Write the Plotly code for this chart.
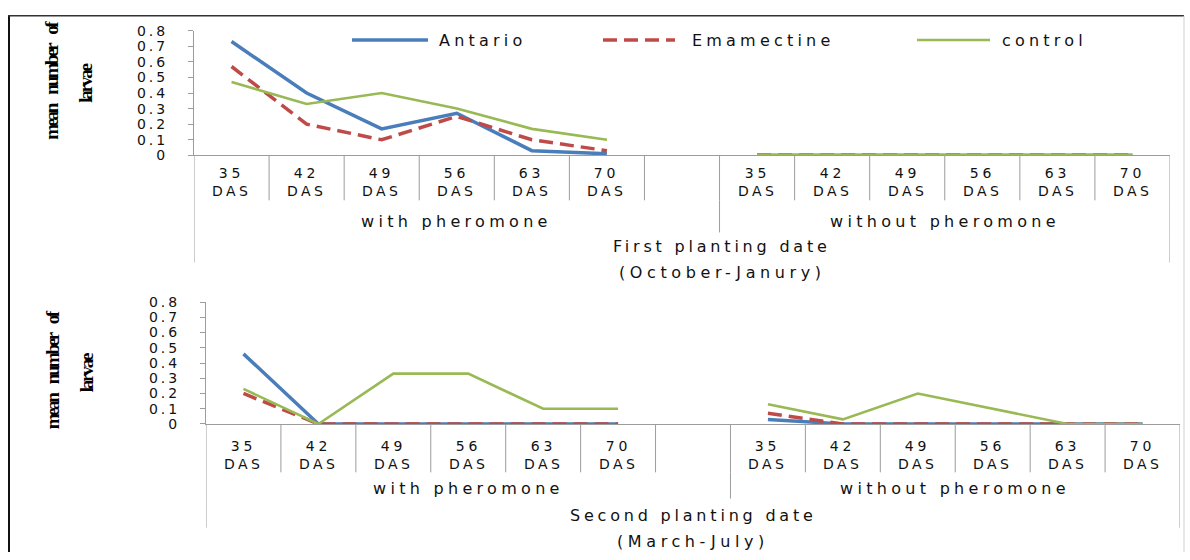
import plotly.graph_objects as go

# ---- data ---------------------------------------------------------------
days = ["35", "42", "49", "56", "63", "70"]
day_unit = "DAS"
groups = ["with pheromone", "without pheromone"]
series_names = ["Antario", "Emamectine", "control"]

# First planting date (October-Janury)
antario_1_with = [0.73, 0.40, 0.17, 0.27, 0.03, 0.01]
antario_1_without = [0, 0, 0, 0, 0, 0]
emamectine_1_with = [0.57, 0.20, 0.10, 0.25, 0.10, 0.03]
emamectine_1_without = [0, 0, 0, 0, 0, 0]
control_1_with = [0.47, 0.33, 0.40, 0.30, 0.17, 0.10]
control_1_without = [0, 0, 0, 0, 0, 0]

# Second planting date (March-July)
antario_2_with = [0.46, 0, 0, 0, 0, 0]
antario_2_without = [0.03, 0, 0, 0, 0, 0]
emamectine_2_with = [0.20, 0, 0, 0, 0, 0]
emamectine_2_without = [0.07, 0, 0, 0, 0, 0]
control_2_with = [0.23, 0, 0.33, 0.33, 0.10, 0.10]
control_2_without = [0.13, 0.03, 0.20, 0.10, 0, 0]

y_tick_values = [0, 0.1, 0.2, 0.3, 0.4, 0.5, 0.6, 0.7, 0.8]
y_tick_labels = ["0", "0.1", "0.2", "0.3", "0.4", "0.5", "0.6", "0.7", "0.8"]
y_title_lines = ["mean number of", "larvae"]
panel_titles = ["First planting date", "Second planting date"]
panel_periods = ["(October-Janury)", "(March-July)"]

# ---- styling ------------------------------------------------------------
W, H = 1190, 560
COLORS = {"Antario": "#4A7EBB", "Emamectine": "#BE4B48", "control": "#98B954"}
WIDTHS = {"Antario": 3.5, "Emamectine": 3.5, "control": 2.6}
DASHES = {"Antario": "solid", "Emamectine": "14px,7px", "control": "solid"}
AXIS_GREY = "#9C9C9C"
TEXT = "#111111"
SANS = "DejaVu Sans"
SERIF = "Liberation Serif"


def px(x):
    return x / W


def py(y):
    return 1 - y / H


def spaced(text, gap, word_gap=None):
    style = f"letter-spacing:{gap}px"
    if word_gap is not None:
        style += f"; word-spacing:{word_gap}px"
    return f'<span style="{style}">{text}</span>'


n_per_group = len(days)
# category slots: six days, one empty slot, six days
with_pos = list(range(n_per_group))
gap_pos = n_per_group
without_pos = [n_per_group + 1 + i for i in range(n_per_group)]
x_all = with_pos + [gap_pos] + without_pos
n_slots = len(x_all)

panels = [
    {
        "xa": "x", "ya": "y",
        "series": {
            "Antario": (antario_1_with, antario_1_without),
            "Emamectine": (emamectine_1_with, emamectine_1_without),
            "control": (control_1_with, control_1_without),
        },
        "left": 194, "right": 1170, "top": 23.3, "bottom": 151.7,
        "row1": 198, "row2": 231, "row3": 262,
        "day_y": 179, "group_y": 220,
        "title_y": 246, "period_y": 272, "title_x": 722,
        "ytitle_y": 75,
    },
    {
        "xa": "x2", "ya": "y2",
        "series": {
            "Antario": (antario_2_with, antario_2_without),
            "Emamectine": (emamectine_2_with, emamectine_2_without),
            "control": (control_2_with, control_2_without),
        },
        "left": 206, "right": 1180, "top": 302.7, "bottom": 428.2,
        "row1": 478, "row2": 505, "row3": 535,
        "day_y": 460, "group_y": 495,
        "title_y": 522, "period_y": 549, "title_x": 693,
        "ytitle_y": 373,
    },
]

fig = go.Figure()
shapes = []
annotations = []

for p in panels:
    for name in series_names:
        with_vals, without_vals = p["series"][name]
        fig.add_trace(go.Scatter(
            x=x_all,
            y=list(with_vals) + [None] + list(without_vals),
            mode="lines",
            name=name,
            xaxis=p["xa"], yaxis=p["ya"],
            line=dict(color=COLORS[name], width=WIDTHS[name], dash=DASHES[name]),
            connectgaps=False,
            showlegend=False,
            hoverinfo="skip",
        ))

    xref = p["xa"]
    # category dividers through the day-label row
    for k in range(n_slots + 1):
        shapes.append(dict(type="line", xref=xref, yref="paper",
                           x0=k - 0.5, x1=k - 0.5,
                           y0=py(p["bottom"]), y1=py(p["row1"]),
                           line=dict(color=AXIS_GREY, width=1)))
    # group dividers through the group-label row
    for k in [0, gap_pos + 1, n_slots]:
        shapes.append(dict(type="line", xref=xref, yref="paper",
                           x0=k - 0.5, x1=k - 0.5,
                           y0=py(p["row1"]), y1=py(p["row2"]),
                           line=dict(color=AXIS_GREY, width=1)))
    # outer dividers through the planting-date row
    for k in [0, n_slots]:
        shapes.append(dict(type="line", xref=xref, yref="paper",
                           x0=k - 0.5, x1=k - 0.5,
                           y0=py(p["row2"]), y1=py(p["row3"]),
                           line=dict(color=AXIS_GREY, width=1)))

    # day labels (number over unit)
    for pos_list in (with_pos, without_pos):
        for pos, d in zip(pos_list, days):
            annotations.append(dict(xref=xref, yref="paper", x=pos, y=py(p["day_y"]),
                                    text=spaced(d, 4) + "<br>" + spaced(day_unit, 3.4),
                                    showarrow=False, align="center",
                                    font=dict(family=SANS, size=14, color=TEXT),
                                    xanchor="center", yanchor="middle"))
    # group labels
    group_centres = [(-0.5 + gap_pos + 0.5) / 2, (gap_pos + 0.5 + n_slots - 0.5) / 2]
    for gx, g in zip(group_centres, groups):
        annotations.append(dict(xref=xref, yref="paper", x=gx, y=py(p["group_y"]),
                                text=spaced(g, 4.3), showarrow=False,
                                font=dict(family=SANS, size=16, color=TEXT),
                                xanchor="center", yanchor="middle"))

for i, p in enumerate(panels):
    annotations.append(dict(xref="paper", yref="paper", x=px(p["title_x"]), y=py(p["title_y"]),
                            text=spaced(panel_titles[i], 3.8), showarrow=False,
                            font=dict(family=SANS, size=16, color=TEXT),
                            xanchor="center", yanchor="middle"))
    annotations.append(dict(xref="paper", yref="paper", x=px(p["title_x"]), y=py(p["period_y"]),
                            text=spaced(panel_periods[i], 4.6), showarrow=False,
                            font=dict(family=SANS, size=16, color=TEXT),
                            xanchor="center", yanchor="middle"))
    # rotated y-axis title, two lines
    annotations.append(dict(xref="paper", yref="paper", x=px(52), y=py(p["ytitle_y"]),
                            text=spaced(y_title_lines[0], -2.4, 8), showarrow=False,
                            textangle=-90,
                            font=dict(family=SERIF, size=19, color="#000000", weight="bold"),
                            xanchor="center", yanchor="middle"))
    annotations.append(dict(xref="paper", yref="paper", x=px(86), y=py(p["ytitle_y"] + 3),
                            text=spaced(y_title_lines[1], -2.2), showarrow=False, textangle=-90,
                            font=dict(family=SERIF, size=19, color="#000000", weight="bold"),
                            xanchor="center", yanchor="middle"))

# legend of the first panel
legend_items = [("Antario", 352, 428, 437), ("Emamectine", 603, 675, 690), ("control", 917, 990, 1000)]
for name, x0, x1, tx in legend_items:
    shapes.append(dict(type="line", xref="paper", yref="paper",
                       x0=px(x0), x1=px(x1), y0=py(33), y1=py(33),
                       line=dict(color=COLORS[name], width=WIDTHS[name],
                                 dash=DASHES[name])))
    annotations.append(dict(xref="paper", yref="paper", x=px(tx), y=py(33),
                            text=spaced(name, 4.2), showarrow=False,
                            font=dict(family=SANS, size=16, color=TEXT),
                            xanchor="left", yanchor="middle"))

# outer frame
shapes.append(dict(type="line", xref="paper", yref="paper", x0=px(9), x1=px(9),
                   y0=py(8), y1=py(560), line=dict(color="#111111", width=2)))
shapes.append(dict(type="line", xref="paper", yref="paper", x0=px(8), x1=px(1184),
                   y0=py(8), y1=py(8), line=dict(color="#333333", width=1.5)))
shapes.append(dict(type="line", xref="paper", yref="paper", x0=px(1184), x1=px(1184),
                   y0=py(8), y1=py(560), line=dict(color="#CFCFCF", width=1)))


def y_axis(p, anchor):
    return dict(
        domain=[py(p["bottom"]), py(p["top"])], range=[0, 0.8], anchor=anchor,
        tickvals=y_tick_values, ticktext=[spaced(t, 3) for t in y_tick_labels],
        tickfont=dict(family=SANS, size=14, color=TEXT),
        ticks="outside", ticklen=5, tickcolor=AXIS_GREY, ticklabelstandoff=17,
        showline=True, linecolor=AXIS_GREY, linewidth=1,
        showgrid=False, zeroline=False, fixedrange=True,
    )


def x_axis(p, anchor):
    return dict(
        domain=[px(p["left"]), px(p["right"])], range=[-0.5, n_slots - 0.5], anchor=anchor,
        showticklabels=False, ticks="", showline=True, linecolor=AXIS_GREY, linewidth=1,
        showgrid=False, zeroline=False, fixedrange=True,
    )


fig.update_layout(
    width=W, height=H,
    margin=dict(l=0, r=0, t=0, b=0),
    paper_bgcolor="white", plot_bgcolor="white",
    xaxis=x_axis(panels[0], "y"), yaxis=y_axis(panels[0], "x"),
    xaxis2=x_axis(panels[1], "y2"), yaxis2=y_axis(panels[1], "x2"),
    shapes=shapes, annotations=annotations,
    showlegend=False,
)

fig.write_html("out.html", config={"displayModeBar": False})
